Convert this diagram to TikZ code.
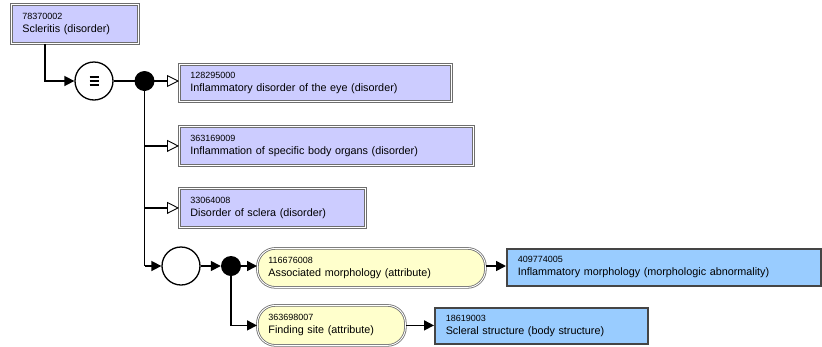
\documentclass[tikz,border=0pt]{standalone}
\usepackage{fontspec}
\setmainfont{Liberation Sans}
\usetikzlibrary{arrows.meta}
\definecolor{lav}{HTML}{CCCCFF}
\definecolor{skyb}{HTML}{99CCFF}
\definecolor{pale}{HTML}{FFFFCC}
\definecolor{bord}{HTML}{6E6E6E}
\definecolor{dbord}{HTML}{454545}
\newcommand\idf{\fontsize{9}{13}\selectfont}
\newcommand\cnode[8]{%
  \pgfmathsetmacro\cw{#5-#3-22}%
  \pgfmathsetmacro\ch{#6-#4}%
  \node[#1, anchor=north west, text width=\cw pt, minimum height=\ch pt] (#2) at (#3,#4) {{\idf #7}\\#8};}
\begin{document}
\begin{tikzpicture}[x=1pt,y=-1pt,
  every node/.style={font=\fontsize{10.8}{13}\selectfont, inner xsep=11pt, inner ysep=2pt, align=left},
  prim/.style={fill=lav, draw=bord, double=white, double distance=0.9pt, line width=0.8pt},
  bluebox/.style={fill=skyb, draw=dbord, line width=1.5pt},
  attr/.style={fill=pale, draw=bord, double=white, double distance=0.9pt, line width=0.8pt, rounded corners=18pt},
  conn/.style={line width=1.6pt},
  solidtip/.style={conn, -{Triangle[length=10pt,width=10pt]}},
  opentip/.style={conn, -{Triangle[open,length=12pt,width=12pt,line width=0.9pt,fill=white]}},
  opcircle/.style={circle, draw, line width=1.3pt, fill=white, minimum size=38pt, inner sep=0pt},
  jdot/.style={circle, fill=black, minimum size=20pt, inner sep=0pt}]
\useasboundingbox (0,0) rectangle (822,346);

\cnode{prim}{b1}{11}{4}{138}{43}{78370002}{Scleritis (disorder)}
\cnode{prim}{b2}{179}{64}{451}{101}{128295000}{Inflammatory disorder of the eye (disorder)}
\cnode{prim}{b3}{179}{126}{473}{165}{363169009}{Inflammation of specific body organs (disorder)}
\cnode{prim}{b4}{179}{188}{365}{227}{33064008}{Disorder of sclera (disorder)}
\cnode{attr}{a1}{257}{248}{485}{287}{116676008}{Associated morphology (attribute)}
\cnode{bluebox}{v1}{506}{248}{820}{285}{409774005}{Inflammatory morphology (morphologic abnormality)}
\cnode{attr}{a2}{257}{305}{405}{345}{363698007}{Finding site (attribute)}
\cnode{bluebox}{v2}{434}{307}{647}{343}{18619003}{Scleral structure (body structure)}

\node[opcircle] (eq) at (94,81) {};
\draw[line width=1.5pt] (89.5,77) -- (98.5,77) (89.5,81) -- (98.5,81) (89.5,85) -- (98.5,85);
\node[jdot] (d1) at (144.5,81) {};
\node[opcircle] (c2) at (181,266) {};
\node[jdot] (d2) at (231,266) {};

\coordinate (b1out) at ([xshift=34pt]b1.south west);
\draw[solidtip] (b1out) |- (eq.west);
\draw[conn] (eq.east) -- (d1.center);
\draw[opentip] (d1.center) -- (d1.center -| b2.west);
\draw[conn] (d1.center) -- (d1.center |- c2.west);
\draw[opentip] (d1.center |- b3.west) -- (b3.west);
\draw[opentip] (d1.center |- b4.west) -- (b4.west);
\draw[solidtip] (d1.center |- c2.west) -- (c2.west);
\draw[solidtip] (c2.east) -- (d2.west);
\draw[solidtip] (d2.center) -- (d2.center -| a1.west);
\draw[solidtip] (d2.center -| a1.east) -- (d2.center -| v1.west);
\draw[solidtip] (d2.center) |- (a2.west);
\draw[solidtip] (a2.east) -- (a2.east -| v2.west);
\end{tikzpicture}
\end{document}
